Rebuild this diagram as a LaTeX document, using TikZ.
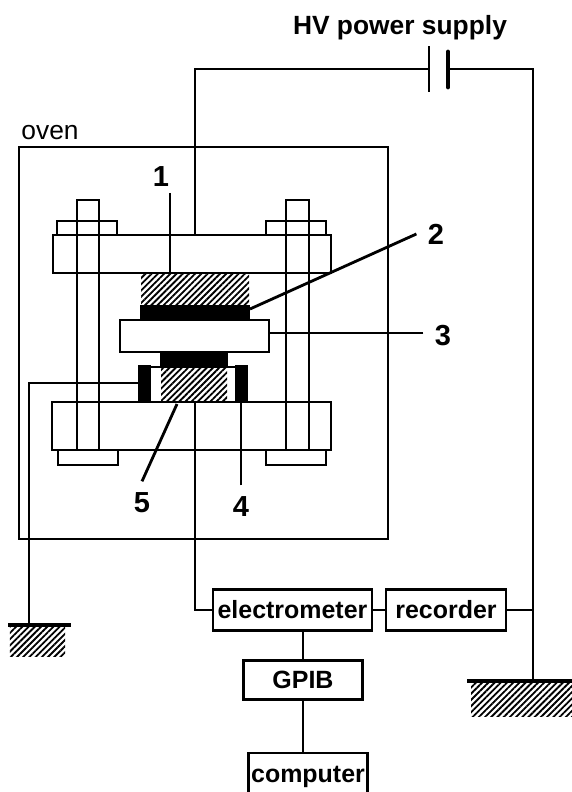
\documentclass[tikz,border=0pt]{standalone}
\usepackage{fontspec}
\setmainfont{Liberation Sans}
\usetikzlibrary{
  patterns.meta
}

\begin{document}
\begin{tikzpicture}[
  line width=1.15pt,
  hatchfill/.style={pattern={Lines[angle=45,distance=2.5pt,line width=1.05pt]}},
  devicebox/.style={draw,inner sep=0pt,minimum height=0.82cm,font=\bfseries\fontsize{14.2}{18}\selectfont},
  numlabel/.style={inner sep=6pt,font=\bfseries\fontsize{16.5}{20}\selectfont},
  leader/.style={line width=1.6pt}
]
\clip (0,0) rectangle (11.44,15.84);

%--------------------
% oven and press
%--------------------
% oven
\draw (0.38,5.06) rectangle (7.76,12.90);
\node (OvenLabel) at (1.00,13.18) {\fontsize{15}{18}\selectfont oven};

% plates
\draw (1.06,10.38) rectangle (6.62,11.14);
\draw (1.04,6.84) rectangle (6.62,7.80);
\draw (2.40,8.80) rectangle (5.38,9.44);

% bolts
\draw (1.54,6.84) rectangle (1.98,11.84);
\draw (5.72,6.84) rectangle (6.18,11.84);

% nuts
\draw (1.14,11.14) rectangle (2.34,11.42);
\draw (5.32,11.14) rectangle (6.52,11.42);
\draw (1.16,6.54) rectangle (2.36,6.84);
\draw (5.32,6.54) rectangle (6.52,6.84);

% upper stack
\fill[hatchfill] (2.82,9.74) rectangle (4.98,10.36);
\fill (2.80,9.44) rectangle (5.00,9.74);

% lower stack
\fill (3.20,8.48) rectangle (4.56,8.80);
\fill[hatchfill] (3.22,7.80) rectangle (4.54,8.48);

% guard ring
\fill (2.76,7.80) rectangle (3.02,8.54);
\fill (4.70,7.80) rectangle (4.96,8.54);
\draw (3.02,8.50) -- (3.20,8.50);
\draw (4.56,8.50) -- (4.70,8.50);

%--------------------
% instruments
%--------------------
\node[devicebox,minimum width=3.18cm] (Electrometer) at (5.85,3.64) {electrometer};
\node[devicebox,minimum width=2.40cm] (Recorder) at (8.92,3.64) {recorder};
\node[devicebox,minimum width=2.38cm,minimum height=0.78cm] (GPIB) at (6.06,2.24) {GPIB};
\node[devicebox,minimum width=2.38cm,minimum height=0.96cm] (Computer) at (6.16,0.30) {computer};

\draw (Electrometer) -- (Recorder);
\draw (Electrometer.south -| GPIB) -- (GPIB);
\draw (GPIB.south) -- (GPIB.south |- Computer.north);

%--------------------
% wiring
%--------------------
\coordinate (TopPlate) at (3.90,11.14);
\coordinate (BottomPlate) at (3.90,7.80);
\coordinate (RingLeft) at (2.76,8.18);
\coordinate (CapA) at (8.58,14.46);
\coordinate (CapB) at (8.96,14.46);
\coordinate (GroundA) at (0.58,3.34);
\coordinate (GroundB) at (10.66,2.22);

% HV power supply
\draw (TopPlate) |- (CapA);
\draw (CapB) -| (GroundB);
\draw (8.58,14.00) -- (8.58,14.92);
\draw[line width=2.8pt,line cap=round] (8.96,14.10) -- (8.96,14.80);
\node[font=\bfseries\fontsize{15}{18}\selectfont] (HVLabel) at (8.00,15.28) {HV power supply};

% signal
\draw (BottomPlate) |- (Electrometer.west);
\draw (Recorder.east) -- (Recorder.east -| GroundB);

% ring to ground
\draw (RingLeft) -| (GroundA);

% grounds
\fill[hatchfill] (0.20,2.70) rectangle (1.30,3.30);
\draw[line width=2.3pt] (0.16,3.34) -- (1.42,3.34);
\fill[hatchfill] (9.42,1.50) rectangle (11.44,2.20);
\draw[line width=2.3pt] (9.34,2.22) -- (11.44,2.22);

%--------------------
% numbers
%--------------------
\node[numlabel] (Lab1) at (3.22,12.30) {1};
\node[numlabel] (Lab2) at (8.72,11.16) {2};
\node[numlabel] (Lab3) at (8.86,9.12) {3};
\node[numlabel] (Lab4) at (4.82,5.70) {4};
\node[numlabel] (Lab5) at (2.84,5.78) {5};

\coordinate (Wire1) at (3.40,11.98);
\coordinate (Pt2) at (5.00,9.66);
\coordinate (Pt3) at (5.38,9.18);
\coordinate (Pt4) at (4.82,7.80);
\coordinate (Pt5) at (3.54,7.76);

\draw (Wire1) -- (3.40,10.38);
\draw[leader] (Lab2.west) -- (Pt2);
\draw (Lab3.west |- Pt3) -- (Pt3);
\draw (Lab4.north) -- (Pt4);
\draw[leader] (Lab5.north) -- (Pt5);

\end{tikzpicture}
\end{document}
